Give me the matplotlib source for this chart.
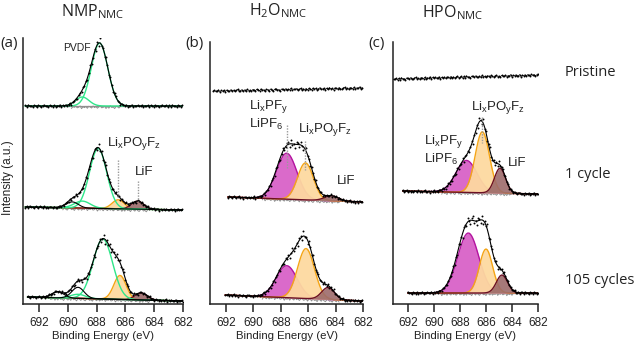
import numpy as np
import matplotlib
matplotlib.use("Agg")
import matplotlib.pyplot as plt

# ------------------------------------------------------------------ data
energy_ticks = [692, 690, 688, 686, 684, 682]
panel_titles = ["NMP$_\\mathregular{NMC}$",
                "H$_\\mathregular{2}$O$_\\mathregular{NMC}$",
                "HPO$_\\mathregular{NMC}$"]
panel_tags = ["(a)", "(b)", "(c)"]
row_labels = ["Pristine", "1 cycle", "105 cycles"]
x_label = "Binding Energy (eV)"
y_label = "Intensity (a.u.)"
lbl_lipo = "Li$_\\mathregular{x}$PO$_\\mathregular{y}$F$_\\mathregular{z}$"
lbl_lipf = "Li$_\\mathregular{x}$PF$_\\mathregular{y}$\nLiPF$_\\mathregular{6}$"
lbl_lif = "LiF"
lbl_pvdf = "PVDF"

# fitted components: (centre / eV, height / a.u., FWHM / eV)
# NMP electrode
nmp_pristine_pvdf = [(687.8, 63, 1.35), (689.0, 9, 1.1)]
nmp_pristine_other = []
nmp_1cyc_pvdf = [(687.9, 60, 1.4), (689.0, 7, 1.3)]
nmp_1cyc_other = [(689.7, 6, 1.0)]
nmp_1cyc_lipo = [(686.5, 9, 1.0)]
nmp_1cyc_lif = [(685.15, 8, 1.0)]
nmp_105_pvdf = [(687.57, 60, 1.6), (689.3, 4, 1.2)]
nmp_105_other = [(689.3, 11, 1.0), (690.7, 6, 1.0)]
nmp_105_lipo = [(686.38, 24, 1.0)]
nmp_105_lif = [(684.9, 7, 1.0)]
# H2O electrode
h2o_1cyc_lipf = [(687.57, 46, 1.75)]
h2o_1cyc_lipo = [(686.2, 37, 1.35)]
h2o_1cyc_lif = [(684.3, 5, 1.2)]
h2o_1cyc_extra = [(687.0, 7, 2.0)]
h2o_105_lipf = [(687.57, 32, 1.8)]
h2o_105_lipo = [(686.16, 50, 1.45)]
h2o_105_lif = [(684.55, 12, 1.1)]
h2o_105_extra = [(686.6, 6, 2.0)]
# HPO electrode
hpo_1cyc_lipf = [(687.5, 32, 1.9)]
hpo_1cyc_lipo = [(686.28, 61, 1.3)]
hpo_1cyc_lif = [(684.92, 25, 1.0)]
hpo_105_lipf = [(687.36, 60, 1.9)]
hpo_105_lipo = [(686.0, 44, 1.2)]
hpo_105_lif = [(684.77, 18, 1.0)]
hpo_105_extra = [(686.8, 12, 2.5)]

# first measured binding energy of each spectrum (rows: pristine, 1, 105)
scan_start = [[692.95, 692.95, 692.8],
              [692.95, 691.85, 692.05],
              [693.1, 692.4, 692.0]]

# measurement scatter around the fit (a.u.)
scatter = [0.8, -1.1, 1.6, -0.4, 0.2, -1.5, 1.0, 0.5, -0.9, 1.3,
           -0.2, -1.2, 0.7, 1.5, -0.6, 0.1, -1.4, 0.9, 0.3, -0.8,
           1.2, -1.0, 0.4, -0.3, 1.7, -1.3, 0.6, -0.1, 1.1, -0.7,
           0.0, 1.4, -1.6, 0.5, -0.5, 0.9, -1.2, 1.0, 0.2, -0.9,
           1.3, -0.4, 0.7, -1.1, 0.3, 1.6, -0.7, -0.2, 1.0, -1.4]

# ------------------------------------------------------------------ layout
W, H = 638, 347
fig = plt.figure(figsize=(W / 100, H / 100), dpi=100)
plt.rcParams["font.family"] = ["Liberation Sans", "DejaVu Sans"]

ax_px = [(23, 183, 38, 304), (210, 363, 42, 304), (393, 538, 42, 304)]
xlims = [(693.12, 682), (693.17, 682), (693.15, 682)]
# baseline height at left end and drift to right end, per panel/row
row_offset = [[198, 97, 7], [213, 107, 9], [225, 113, 11]]
row_drift = [[0, -3, -4], [3, -5, -6], [4, -3, 0]]

C_GREEN = "#2fe68a"
C_MAG_L, C_MAG_F = "#b3159f", "#d862c8"
C_ORA_L, C_ORA_F = "#f5a515", "#fdd9a0"
C_LIF_L, C_LIF_F = "#6b1024", "#9c6a6a"
C_GREY = "#8f8f8f"
C_TEXT = "#222222"


def gauss(E, comp):
    c, h, w = comp
    return h * np.exp(-4 * np.log(2) * (E - c) ** 2 / w ** 2)


spectra = [
    [dict(pvdf=nmp_pristine_pvdf, other=nmp_pristine_other),
     dict(pvdf=nmp_1cyc_pvdf, other=nmp_1cyc_other, lipo=nmp_1cyc_lipo, lif=nmp_1cyc_lif),
     dict(pvdf=nmp_105_pvdf, other=nmp_105_other, lipo=nmp_105_lipo, lif=nmp_105_lif)],
    [dict(),
     dict(lipf=h2o_1cyc_lipf, lipo=h2o_1cyc_lipo, lif=h2o_1cyc_lif, extra=h2o_1cyc_extra),
     dict(lipf=h2o_105_lipf, lipo=h2o_105_lipo, lif=h2o_105_lif, extra=h2o_105_extra)],
    [dict(),
     dict(lipf=hpo_1cyc_lipf, lipo=hpo_1cyc_lipo, lif=hpo_1cyc_lif),
     dict(lipf=hpo_105_lipf, lipo=hpo_105_lipo, lif=hpo_105_lif, extra=hpo_105_extra)],
]

axes = []
for p in range(3):
    l, r, t, b = ax_px[p]
    ax = fig.add_axes([l / W, 1 - b / H, (r - l) / W, (b - t) / H])
    axes.append(ax)
    ax.set_xlim(*xlims[p])
    ax.set_ylim(0, b - t)
    for s in ("top", "right"):
        ax.spines[s].set_visible(False)
    for s in ("left", "bottom"):
        ax.spines[s].set_linewidth(1.1)
        ax.spines[s].set_color(C_TEXT)
    ax.set_yticks([])
    ax.set_xticks(energy_ticks)
    ax.set_xticklabels([str(v) for v in energy_ticks])
    ax.tick_params(axis="x", direction="out", length=6, width=1.1, pad=3.5,
                   labelsize=8.5, colors=C_TEXT)
    ax.set_xlabel(x_label, fontsize=8.2, labelpad=1, color=C_TEXT)

    for row in range(3):
        comps = spectra[p][row]
        start = scan_start[p][row]
        E = np.arange(start, 681.99, -0.1)
        off = row_offset[p][row]
        bg = off + row_drift[p][row] * (start - E) / (start - 682)
        signal = np.zeros_like(E)
        for key in ("pvdf", "other", "lipf", "lipo", "lif", "extra"):
            for comp in comps.get(key, []):
                signal = signal + gauss(E, comp)
        n = len(E)
        sc = np.roll(np.resize(np.array(scatter), n), 11 * (3 * p + row))
        amp = 0.7 + 0.035 * signal
        data = bg + signal + sc * amp

        z = 2
        for key, fc, lc in (("lipf", C_MAG_F, C_MAG_L), ("lipo", C_ORA_F, C_ORA_L),
                            ("lif", C_LIF_F, C_LIF_L)):
            for comp in comps.get(key, []):
                g = gauss(E, comp)
                ax.fill_between(E, bg, bg + g, where=g > 0.05, color=fc, lw=0,
                                alpha=0.95 if key != "lif" else 0.9, zorder=z)
                ax.plot(E, bg + g, color=lc, lw=1.0, zorder=z + 0.5)
                z += 1
        for comp in comps.get("pvdf", []):
            ax.plot(E, bg + gauss(E, comp), color=C_GREEN, lw=1.0, zorder=6)
        for comp in comps.get("other", []):
            ax.plot(E, bg + gauss(E, comp), color="k", lw=0.8, zorder=6)

        if comps:
            ax.plot(E, bg, color=C_GREY, lw=0.9, zorder=1.5)
            resid = np.where(signal > 2.0, bg - 1.2 + 0.9 * np.roll(sc, 7), np.nan)
            ax.plot(E, resid, color=C_GREY, lw=0.7, zorder=1.6)
            ax.plot(E, bg + signal, color="k", lw=0.8, zorder=7)
        flat = np.where(signal < 3.0, data, np.nan)
        ax.plot(E, flat, color="k", lw=0.45, zorder=8)
        ax.plot(E, data, ls="none", marker="o", ms=1.4, mfc="k", mec="none", zorder=8)

# ------------------------------------------------------------------ text
title_x = [93, 278, 453]
title_y = [12, 11, 13]
for p in range(3):
    fig.text(title_x[p] / W, 1 - title_y[p] / H, panel_titles[p], family="Open Sans",
             fontsize=11.5, ha="center", va="center", color=C_TEXT)
tag_x = [0, 185, 368]
for p in range(3):
    fig.text(tag_x[p] / W, 1 - 43 / H, panel_tags[p], family="Open Sans",
             fontsize=11, ha="left", va="center", color=C_TEXT)
for lbl, yy in zip(row_labels, [72, 175, 280]):
    fig.text(565 / W, 1 - yy / H, lbl, family="Open Sans", fontsize=10.5,
             ha="left", va="center", color=C_TEXT)
fig.text(8 / W, 1 - 178 / H, y_label, rotation=90, fontsize=8.5,
         ha="center", va="center", color=C_TEXT)


def fx(x):
    return x / W


def fy(y):
    return 1 - y / H


def vline(p, energy, y1, y2):
    b = ax_px[p][3]
    axes[p].plot([energy, energy], [b - y1, b - y2], color="#9a9a9a", lw=1.0,
                 ls=(0, (1, 1)), zorder=9)


ann = dict(fontsize=9.5, color=C_TEXT, va="center", ha="left")
# panel (a)
fig.text(fx(63), fy(48), lbl_pvdf, fontsize=7.5, color=C_TEXT, va="center", ha="left")
fig.text(fx(107), fy(144), lbl_lipo, **ann)
vline(0, nmp_1cyc_lipo[0][0], 160, 199)
fig.text(fx(135), fy(172), lbl_lif, **ann)
vline(0, nmp_1cyc_lif[0][0], 181, 201)
# panel (b)
fig.text(fx(249), fy(115), lbl_lipf, linespacing=1.1, **ann)
vline(1, h2o_1cyc_lipf[0][0], 125, 168)
fig.text(fx(298), fy(129), lbl_lipo, **ann)
vline(1, h2o_1cyc_lipo[0][0], 141, 170)
fig.text(fx(337), fy(181), lbl_lif, **ann)
# panel (c)
fig.text(fx(471), fy(107), lbl_lipo, **ann)
vline(2, hpo_1cyc_lipo[0][0], 117, 143)
fig.text(fx(424), fy(150), lbl_lipf, linespacing=1.1, **ann)
fig.text(fx(508), fy(163), lbl_lif, **ann)

fig.savefig("out.png", dpi=100)
